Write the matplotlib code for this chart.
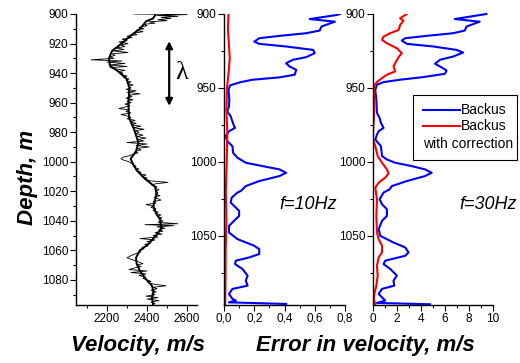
import matplotlib.pyplot as plt
from matplotlib.ticker import MultipleLocator
from matplotlib.lines import Line2D
from matplotlib.patches import Rectangle

plt.rcParams['font.family'] = ['Liberation Sans', 'DejaVu Sans']

# velocity log, raw (thin) and smoothed (thick)
raw_depth = [900.0, 900.4, 901.0, 901.6, 902.3, 903.0, 903.8, 904.5, 905.3, 906.2,
             907.0, 908.0, 909.0, 910.0, 911.0, 912.0, 913.0, 914.0, 915.0, 916.0,
             917.0, 918.0, 919.0, 920.0, 921.0, 922.0, 923.0, 924.0, 925.0, 926.0,
             927.0, 928.0, 929.0, 930.0, 931.0, 931.8, 932.6, 933.5, 934.5, 935.5,
             936.3, 937.3, 938.2, 939.0, 940.0, 941.0, 942.0, 943.0, 944.0, 945.0,
             946.0, 947.0, 948.0, 949.0, 950.0, 951.0, 952.0, 953.0, 954.0, 955.0,
             956.0, 957.0, 958.0, 959.0, 960.0, 961.0, 962.0, 963.0, 964.0, 965.0,
             966.0, 967.0, 968.0, 969.0, 970.0, 971.0, 972.0, 973.0, 974.0, 975.0,
             976.0, 977.0, 978.0, 979.0, 980.0, 981.0, 982.0, 983.0, 984.0, 985.0,
             986.0, 987.0, 988.0, 989.0, 990.0, 991.0, 992.0, 993.0, 994.0, 995.0,
             996.0, 997.0, 998.0, 999.0, 1000.0, 1001.0, 1002.0, 1003.0, 1004.0, 1005.0,
             1006.0, 1007.0, 1008.0, 1009.0, 1010.0, 1011.0, 1012.0, 1013.0, 1014.0, 1015.0,
             1016.0, 1017.0, 1018.0, 1019.0, 1020.0, 1021.0, 1022.0, 1023.0, 1024.0, 1025.0,
             1026.0, 1027.0, 1028.0, 1029.0, 1030.0, 1031.0, 1032.0, 1033.0, 1034.0, 1035.0,
             1036.0, 1037.0, 1038.0, 1039.0, 1040.0, 1041.0, 1042.0, 1042.6, 1043.3, 1044.0,
             1045.0, 1046.0, 1047.0, 1048.0, 1049.0, 1050.0, 1051.0, 1052.0, 1053.0, 1054.0,
             1055.0, 1056.0, 1057.0, 1058.0, 1059.0, 1060.0, 1061.0, 1062.0, 1063.0, 1064.0,
             1065.0, 1066.0, 1067.0, 1068.0, 1069.0, 1070.0, 1071.0, 1072.0, 1073.0, 1074.0,
             1075.0, 1076.0, 1077.0, 1078.0, 1079.0, 1080.0, 1081.0, 1082.0, 1083.0, 1084.0,
             1085.0, 1086.0, 1087.0, 1088.0, 1089.0, 1090.0, 1091.0, 1092.0, 1093.0, 1094.0,
             1095.0, 1096.0, 1096.8]
raw_vel = [2335, 2600, 2450, 2555, 2470, 2520, 2455, 2500, 2410, 2440,
           2385, 2400, 2360, 2385, 2345, 2380, 2330, 2350, 2300, 2325,
           2275, 2300, 2260, 2305, 2270, 2290, 2245, 2285, 2230, 2305,
           2225, 2240, 2215, 2235, 2120, 2275, 2200, 2290, 2210, 2300,
           2215, 2250, 2290, 2255, 2280, 2270, 2300, 2285, 2310, 2295,
           2320, 2300, 2330, 2305, 2320, 2295, 2345, 2300, 2365, 2310,
           2325, 2295, 2330, 2300, 2320, 2290, 2315, 2290, 2260, 2310,
           2295, 2320, 2270, 2300, 2320, 2300, 2340, 2315, 2345, 2320,
           2370, 2330, 2385, 2340, 2360, 2345, 2380, 2350, 2395, 2355,
           2385, 2300, 2400, 2345, 2410, 2350, 2370, 2340, 2355, 2330,
           2310, 2280, 2270, 2285, 2310, 2320, 2330, 2345, 2340, 2360,
           2345, 2370, 2360, 2395, 2375, 2400, 2390, 2420, 2505, 2440,
           2425, 2450, 2440, 2460, 2445, 2455, 2440, 2465, 2435, 2455,
           2470, 2430, 2445, 2395, 2430, 2420, 2445, 2430, 2455, 2445,
           2470, 2450, 2475, 2460, 2480, 2455, 2555, 2390, 2535, 2450,
           2490, 2460, 2480, 2440, 2475, 2430, 2455, 2365, 2440, 2400,
           2420, 2390, 2405, 2375, 2385, 2360, 2370, 2350, 2330, 2315,
           2300, 2320, 2340, 2360, 2380, 2350, 2370, 2335, 2310, 2400,
           2320, 2395, 2360, 2390, 2380, 2400, 2420, 2405, 2440, 2495,
           2430, 2450, 2420, 2445, 2425, 2440, 2395, 2455, 2400, 2460,
           2420, 2440, 2430]

smooth_depth = [900, 903, 905, 910, 915, 920, 925, 930, 935, 939, 944, 950, 960, 970,
                978, 987, 993, 998, 1003, 1006, 1011, 1017, 1022, 1030, 1035, 1039,
                1045, 1049, 1052, 1056, 1060, 1065, 1069, 1074, 1080, 1084, 1088,
                1092, 1096.5]
smooth_vel = [2445, 2430, 2395, 2365, 2315, 2273, 2225, 2210, 2215, 2257, 2298, 2312,
              2307, 2310, 2335, 2357, 2345, 2318, 2335, 2350, 2385, 2440, 2448, 2432,
              2445, 2465, 2472, 2450, 2432, 2405, 2365, 2345, 2348, 2365, 2398, 2425,
              2432, 2425, 2430]

# error of Backus averaging, f = 10 Hz
b10_depth = [900.0, 900.7, 903.4, 905.2, 908.5, 911.2, 913.0, 914.8, 916.4, 918.7,
             920.2, 922.0, 924.3, 926.5, 929.2, 931.0, 933.3, 935.5, 937.8, 941.1,
             942.9, 944.5, 946.1, 948.3, 951.3, 958.0, 962.5, 965.9, 969.2, 972.6,
             976.0, 977.1, 979.4, 982.7, 986.1, 988.3, 989.5, 994.0, 997.3, 1000.7,
             1003.0, 1005.2, 1007.5, 1009.7, 1013.1, 1016.5, 1019.8, 1020.9, 1024.3, 1027.7,
             1031.0, 1033.3, 1036.7, 1040.0, 1043.4, 1047.9, 1052.4, 1056.9, 1059.2, 1062.5,
             1064.8, 1067.0, 1069.3, 1072.6, 1077.1, 1080.5, 1083.9, 1086.1, 1089.5, 1092.9,
             1094.0, 1095.2, 1096.3]
b10_err = [0.767, 0.744, 0.567, 0.733, 0.644, 0.633, 0.544, 0.367, 0.233, 0.200,
           0.233, 0.411, 0.589, 0.600, 0.544, 0.456, 0.411, 0.433, 0.478, 0.467,
           0.367, 0.189, 0.111, 0.040, 0.030, 0.035, 0.033, 0.022, 0.044, 0.055,
           0.067, 0.073, 0.033, 0.011, 0.022, 0.044, 0.056, 0.060, 0.089, 0.144,
           0.256, 0.367, 0.411, 0.367, 0.233, 0.144, 0.111, 0.089, 0.051, 0.044,
           0.078, 0.100, 0.100, 0.067, 0.033, 0.033, 0.089, 0.200, 0.233, 0.233,
           0.167, 0.078, 0.073, 0.122, 0.156, 0.144, 0.156, 0.056, 0.033, 0.056,
           0.078, 0.033, 0.411]

c10_depth = [900, 910, 920, 930, 940, 950, 965, 980, 1000, 1020, 1040, 1060, 1080, 1096.5]
c10_err = [0.030, 0.026, 0.032, 0.038, 0.030, 0.020, 0.016, 0.022, 0.018, 0.012,
           0.016, 0.011, 0.010, 0.008]

# error of Backus averaging, f = 30 Hz
b30_depth = [900.0, 903.4, 905.2, 908.5, 911.2, 913.0, 914.8, 916.4, 918.0, 920.2,
             922.0, 924.3, 926.1, 928.8, 931.0, 933.7, 935.5, 938.2, 940.5, 942.7,
             944.5, 946.1, 947.9, 951.3, 958.0, 967.0, 970.4, 973.7, 977.1, 979.4,
             981.6, 985.0, 989.5, 996.2, 998.5, 1000.7, 1003.0, 1005.2, 1007.5, 1009.7,
             1013.1, 1016.5, 1018.7, 1020.9, 1025.4, 1028.8, 1032.2, 1036.7, 1040.0, 1045.7,
             1050.2, 1054.7, 1058.0, 1061.4, 1063.7, 1067.0, 1069.3, 1072.6, 1077.1, 1080.5,
             1083.9, 1086.1, 1089.5, 1092.9, 1094.0, 1095.6, 1096.5]
b30_err = [9.45, 6.82, 8.89, 7.79, 7.65, 6.68, 4.47, 2.68, 2.40, 2.82,
           5.03, 6.96, 7.51, 6.68, 5.58, 5.17, 5.58, 6.13, 5.99, 4.20,
           2.26, 0.88, 0.33, 0.19, 0.28, 0.33, 0.55, 0.66, 0.88, 0.47,
           0.33, 0.19, 0.66, 0.75, 1.16, 1.85, 3.23, 4.34, 4.89, 4.34,
           2.82, 1.57, 1.38, 0.88, 0.55, 0.75, 1.16, 1.16, 0.75, 0.47,
           0.61, 1.71, 2.68, 2.96, 2.68, 1.02, 0.88, 1.44, 1.99, 1.71,
           1.77, 0.75, 0.47, 0.88, 1.02, 0.33, 4.75]

c30_depth = [900.0, 902.9, 904.5, 907.4, 910.8, 913.0, 915.3, 917.5, 919.8, 923.2,
             926.5, 929.2, 932.1, 935.5, 938.9, 941.1, 943.4, 945.6, 947.9, 953.5,
             962.5, 971.5, 980.5, 985.0, 989.5, 996.2, 1000.7, 1005.2, 1007.9, 1010.8,
             1014.2, 1017.6, 1025.4, 1036.7, 1047.9, 1052.4, 1056.9, 1061.4, 1064.8, 1070.4,
             1077.1, 1083.9, 1088.4, 1092.9, 1096.3]
c30_err = [2.82, 2.26, 2.54, 2.26, 2.13, 1.44, 0.88, 0.75, 1.16, 1.99,
           2.40, 2.13, 1.93, 1.71, 1.85, 1.16, 0.75, 0.39, 0.14, 0.06,
           0.11, 0.06, 0.00, 0.00, 0.19, 0.39, 0.75, 1.16, 1.30, 1.02,
           0.47, 0.19, 0.33, 0.28, 0.33, 0.47, 0.75, 0.75, 0.47, 0.33,
           0.39, 0.28, 0.14, 0.06, 0.19]

err10_ticks = [0.0, 0.2, 0.4, 0.6, 0.8]
err10_labels = ['0,0', '0,2', '0,4', '0,6', '0,8']

fig = plt.figure(figsize=(5.2, 3.63), dpi=100)
ax1 = fig.add_axes([76/520, 1-305/363, 121/520, 291/363])
ax2 = fig.add_axes([224/520, 1-305/363, 121/520, 291/363])
ax3 = fig.add_axes([373/520, 1-305/363, 120/520, 291/363])

for ax in (ax1, ax2, ax3):
    ax.spines['top'].set_visible(False)
    ax.spines['right'].set_visible(False)
    ax.spines['left'].set_linewidth(1.0)
    ax.spines['bottom'].set_linewidth(1.0)
    ax.tick_params(which='major', direction='out', length=4, width=0.8, labelsize=8.5, pad=1.5)
    ax.tick_params(which='minor', direction='out', length=2.5, width=0.8)
    ax.set_ylim(1097, 900)

ax1.plot(raw_vel, raw_depth, color='black', lw=0.6)
ax1.plot(smooth_vel, smooth_depth, color='black', lw=1.4)
ax1.set_xlim(2045, 2650)
ax1.set_xticks([2200, 2400, 2600])
ax1.xaxis.set_minor_locator(MultipleLocator(100))
ax1.set_yticks(range(900, 1081, 20))
ax1.yaxis.set_minor_locator(MultipleLocator(10))
ax1.annotate('', xy=(2511, 918.4), xytext=(2511, 962.2),
             arrowprops=dict(arrowstyle='<|-|>', color='black', lw=1.6, mutation_scale=10,
                             shrinkA=0, shrinkB=0))
ax1.text(2573, 940, 'λ', family='Liberation Serif', fontsize=19, ha='center', va='center')

ax2.plot(b10_err, b10_depth, color='#0000ff', lw=1.5)
ax2.plot(c10_err, c10_depth, color='#ff0000', lw=1.5)
ax2.set_xlim(0, 0.8)
ax2.set_xticks(err10_ticks)
ax2.set_xticklabels(err10_labels)
ax2.xaxis.set_minor_locator(MultipleLocator(0.1))
ax2.set_yticks([900, 950, 1000, 1050])
ax2.yaxis.set_minor_locator(MultipleLocator(25))
ax2.text(0.555, 1029, 'f=10Hz', fontsize=13, style='italic', ha='center', va='center')

ax3.plot(b30_err, b30_depth, color='#0000ff', lw=1.5, clip_on=False)
ax3.plot(c30_err, c30_depth, color='#ff0000', lw=1.5)
ax3.set_xlim(0, 10)
ax3.set_xticks([0, 2, 4, 6, 8, 10])
ax3.xaxis.set_minor_locator(MultipleLocator(1))
ax3.set_yticks([900, 950, 1000, 1050])
ax3.yaxis.set_minor_locator(MultipleLocator(25))
ax3.text(9.58, 1029, 'f=30Hz', fontsize=13, style='italic', ha='center', va='center', clip_on=False)

# legend box drawn by hand: second label wraps under its key
W, H = 520, 363
fig.patches.append(Rectangle((413/W, 1-160/H), 104/W, 65/H, transform=fig.transFigure,
                             fill=False, edgecolor='black', lw=0.8))
fig.lines.append(Line2D([423/W, 460/W], [1-110/H, 1-110/H], transform=fig.transFigure,
                        color='#0000ff', lw=1.5))
fig.lines.append(Line2D([423/W, 460/W], [1-126/H, 1-126/H], transform=fig.transFigure,
                        color='#ff0000', lw=1.5))
fig.text(461/W, 1-110/H, 'Backus', fontsize=10, va='center')
fig.text(461/W, 1-126/H, 'Backus', fontsize=10, va='center')
fig.text(468.5/W, 1-144/H, 'with correction', fontsize=10, va='center', ha='center')

fig.text(27/W, 1-177/H, 'Depth, m', fontsize=16, weight='bold', style='italic',
         rotation=90, ha='center', va='center')
fig.text(138/W, 1-345/H, 'Velocity, m/s', fontsize=16, weight='bold', style='italic',
         ha='center', va='center')
fig.text(365/W, 1-345/H, 'Error in velocity, m/s', fontsize=16, weight='bold', style='italic',
         ha='center', va='center')

fig.savefig('out.png', dpi=100)
